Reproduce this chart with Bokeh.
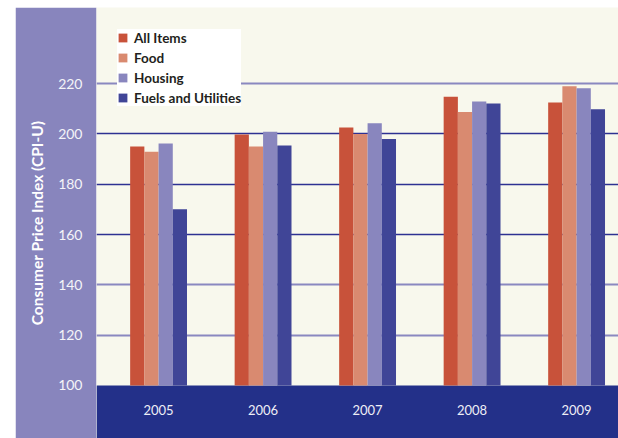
from bokeh.plotting import figure
from bokeh.models import Range1d, FixedTicker, Grid, BoxAnnotation, ColumnDataSource
from bokeh.transform import dodge
from bokeh.embed import file_html
from bokeh.resources import INLINE

years = [2005, 2006, 2007, 2008, 2009]
all_items = [195.0, 199.7, 202.5, 214.7, 212.5]
food = [192.9, 195.0, 199.9, 208.7, 218.9]
housing = [196.2, 200.8, 204.2, 212.8, 218.1]
fuels = [170.0, 195.4, 197.9, 212.1, 209.8]
series_names = ["All Items", "Food", "Housing", "Fuels and Utilities"]
colors = ["#c8523a", "#d98a70", "#8986be", "#404597"]
y_ticks = [100, 120, 140, 160, 180, 200, 220]

source = ColumnDataSource(dict(year=years, all_items=all_items, food=food,
                               housing=housing, fuels=fuels))

FONT = "Lato"
PURPLE = "#8885bd"
NAVY = "#233089"

p = figure(width=603, height=431, output_backend="svg", toolbar_location=None,
           x_range=Range1d(2004.406, 2009.401), y_range=Range1d(78.94, 250.2),
           min_border_left=81, min_border_right=0, min_border_top=0, min_border_bottom=0,
           margin=(7, 0, 0, 15))
p.background_fill_color = "#f8f8ed"
p.border_fill_color = PURPLE
p.outline_line_color = None
p.grid.visible = False

# navy band below 100
p.add_layout(BoxAnnotation(top=100, fill_color=NAVY, fill_alpha=1.0, line_color=None, level="underlay"))

# gridlines: two tones
light_grid = Grid(dimension=1, ticker=FixedTicker(ticks=[120, 140, 220]),
                  grid_line_color="#8a88c0", grid_line_width=2)
dark_grid = Grid(dimension=1, ticker=FixedTicker(ticks=[160, 180, 200]),
                 grid_line_color="#2e3192", grid_line_width=1.5)
p.add_layout(light_grid)
p.add_layout(dark_grid)

w = 0.136
fields = ["all_items", "food", "housing", "fuels"]
offsets = [-1.5 * w, -0.5 * w, 0.5 * w, 1.5 * w]
for f, off, c, name in zip(fields, offsets, colors, series_names):
    p.vbar(x=dodge("year", off), top=f, bottom=100, width=w, source=source,
           fill_color=c, line_color=None, legend_label=name)

# y axis
ya = p.yaxis[0]
ya.ticker = FixedTicker(ticks=y_ticks)
ya.axis_line_color = None
ya.major_tick_line_color = None
ya.minor_tick_line_color = None
ya.major_label_standoff = 8
ya.major_label_text_color = "#f4f4f8"
ya.major_label_text_font = FONT
ya.major_label_text_font_size = "14px"
ya.axis_label = "Consumer Price Index (CPI-U)"
ya.axis_label_text_color = "white"
ya.axis_label_text_font = FONT
ya.axis_label_text_font_style = "bold"
ya.axis_label_text_font_size = "15.5px"
ya.axis_label_standoff = 9

# x axis inside navy band
xa = p.xaxis[0]
xa.fixed_location = 100
xa.ticker = FixedTicker(ticks=years)
xa.axis_line_color = None
xa.major_tick_line_color = None
xa.minor_tick_line_color = None
xa.major_label_standoff = 14
xa.major_label_text_color = "#eeeef6"
xa.major_label_text_font = FONT
xa.major_label_text_font_size = "13px"

lg = p.legend[0]
lg.location = (21, 332)
lg.background_fill_color = "white"
lg.background_fill_alpha = 1.0
lg.border_line_color = None
lg.padding = 14
lg.margin = 0
lg.spacing = 3
lg.label_height = 17
lg.glyph_height = 11
lg.glyph_width = 11
lg.label_standoff = 6
lg.label_text_font = FONT
lg.label_text_font_style = "bold"
lg.label_text_font_size = "13.5px"
lg.label_text_color = "#231f20"

open("out.html", "w").write(file_html(p, INLINE))
